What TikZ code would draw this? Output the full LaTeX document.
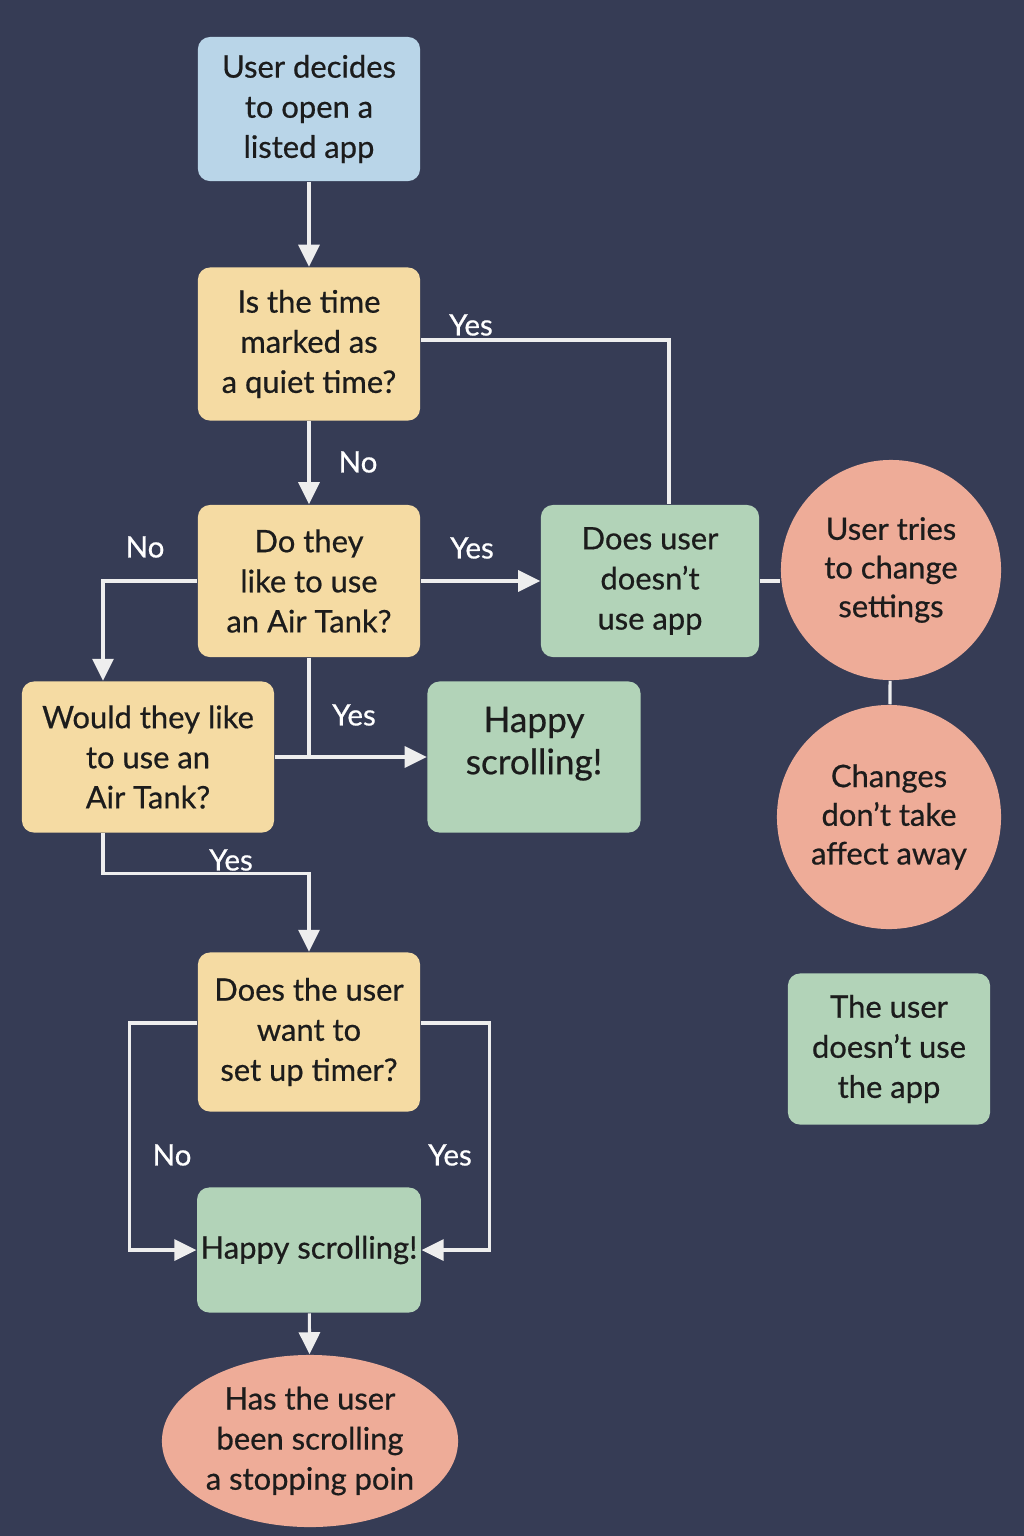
\documentclass[tikz,border=0pt]{standalone}
\usepackage{fontspec}
\setmainfont{Lato}[FakeBold=0.6]
\usetikzlibrary{arrows.meta,positioning,shapes.geometric,backgrounds}
\definecolor{nightbg}{HTML}{363C55}
\definecolor{skyfill}{HTML}{B9D5E8}
\definecolor{sandfill}{HTML}{F5DBA3}
\definecolor{sagefill}{HTML}{B2D3B8}
\definecolor{peachfill}{HTML}{EEAC98}
\definecolor{inkdark}{HTML}{1C1C1C}
\definecolor{wireline}{HTML}{EEEEEE}
\tikzset{
  >={Triangle[length=2.2mm,width=2.1mm]},
  % rutor
  box/.style={rectangle,rounded corners=1.2mm,align=center,inner sep=1pt,
              text=inkdark,font=\fontsize{8.8}{11.4}\selectfont},
  startbox/.style={box,fill=skyfill},
  ask/.style={box,fill=sandfill},
  endbox/.style={box,fill=sagefill},
  blob/.style={circle,fill=peachfill,align=center,inner sep=0pt,
               minimum size=2.2cm,text=inkdark,font=\fontsize{8.8}{11.0}\selectfont},
  oval/.style={ellipse,fill=peachfill,align=center,inner sep=0pt,
               minimum width=2.96cm,minimum height=1.72cm,text=inkdark,
               font=\fontsize{8.8}{11.4}\selectfont},
  % pilar
  wire/.style={draw=wireline,line width=0.9pt},
  wirea/.style={wire,->},
  lbl/.style={text=white,font=\fontsize{8.4}{10}\selectfont,inner sep=1pt},
}
\begin{document}
\begin{tikzpicture}[x=0.01cm,y=-0.01cm]
  \fill[nightbg] (0,0) rectangle (1024,1536);
  % noder
  \node[startbox,minimum width=2.22cm,minimum height=1.44cm] (open) at (309,109)
    {User decides\\to open a\\listed app};
  \node[ask,minimum width=2.22cm,minimum height=1.53cm] (quiet) at (309,344)
    {Is the time\\marked as\\a quiet time?};
  \node[ask,minimum width=2.22cm,minimum height=1.52cm] (tank) at (309,581)
    {Do they\\like to use\\an Air Tank?};
  \node[endbox,minimum width=2.18cm,minimum height=1.52cm] (noapp) at (650,581)
    {Does user\\doesn’t\\use app};
  \node[blob] (settings) at (891,570) {User tries\\to change\\settings};
  \node[blob,minimum size=2.24cm] (nochange) at (889,817)
    {Changes\\don’t take\\affect away};
  \node[ask,minimum width=2.52cm,minimum height=1.51cm] (would) at (148,757)
    {Would they like\\to use an\\Air Tank?};
  \node[endbox,minimum width=2.13cm,minimum height=1.51cm,text depth=0.33cm,
        font=\fontsize{10}{12}\selectfont] (happya) at (534,757)
    {Happy\\scrolling!};
  \node[ask,minimum width=2.22cm,minimum height=1.59cm] (timer) at (309,1032)
    {Does the user\\want to\\set up timer?};
  \node[endbox,minimum width=2.22cm,minimum height=1.25cm] (happyb) at (309,1250)
    {Happy scrolling!};
  \node[oval] (stop) at (310,1441)
    {Has the user\\been scrolling\\a stopping poin};
  \node[endbox,minimum width=2.02cm,minimum height=1.51cm] (userapp) at (889,1049)
    {The user\\doesn’t use\\the app};
  % kanter
  \draw[wirea] (open) -- (quiet);
  \draw[wire] ([yshift=0.04cm]quiet.east) -| ([xshift=0.19cm]noapp.north);
  \draw[wirea] (quiet) -- (tank);
  \draw[wirea] (tank) -- (noapp);
  \draw[wire] (noapp.east) -- (settings.west |- noapp.east);
  \draw[wire] (settings) -- (nochange);
  \draw[wirea] (tank.west) -| ([xshift=-0.45cm]would.north);
  \draw[wire] (tank.south) -- (tank.south |- happya.west);
  \draw[wirea] (would) -- (happya);
  \draw[wirea] ([xshift=-0.45cm]would.south) -- ++(0,40) -| (timer.north);
  \draw[wirea] ([yshift=0.09cm]timer.west) -- ++(-68,0) |- (happyb.west);
  \draw[wirea] ([yshift=0.09cm]timer.east) -- ++(69,0) |- (happyb.east);
  \draw[wirea] (happyb) -- (stop);
  % etiketter
  \node[lbl] (yq) at (471,325) {Yes};
  \node[lbl] (nq) at (358,462) {No};
  \node[lbl] (yt) at (472,548) {Yes};
  \node[lbl] (nt) at (145,547) {No};
  \node[lbl] (yh) at (354,715) {Yes};
  \node[lbl] (yw) at (231,860) {Yes};
  \node[lbl] (nm) at (172,1155) {No};
  \node[lbl] (ym) at (450,1155) {Yes};
\end{tikzpicture}
\end{document}
